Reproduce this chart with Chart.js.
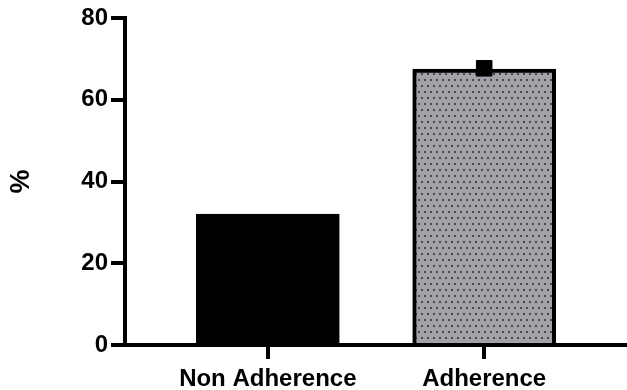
<!DOCTYPE html>
<html>
<head>
<meta charset="utf-8">
<script src="https://cdn.jsdelivr.net/npm/chart.js@4"></script>
<style>
  body { margin: 0; background: #fff; overflow: hidden; }
  #wrap { width: 627px; height: 390px; }
  canvas { display: block; }
</style>
</head>
<body>
<div id="wrap"><canvas id="chart"></canvas></div>
<script>
const categories = ["Non Adherence", "Adherence"];
const xPositions = [1, 2];
const percentValues = [32, 67.5];
const meanMarker = [67.7];
const yTicks = [0, 20, 40, 60, 80];

// dotted grey fill for the second bar
function dotPattern() {
  const c = document.createElement("canvas");
  c.width = 12;
  c.height = 12;
  const g = c.getContext("2d");
  g.fillStyle = "#a3a2a8";
  g.fillRect(0, 0, 12, 12);
  g.fillStyle = "#4a4a4e";
  [[1, 1], [7, 1], [4, 7], [10, 7]].forEach(([x, y]) => g.fillRect(x, y, 2, 2));
  return g.createPattern(c, "repeat");
}

const font = { family: "'Liberation Sans', Arial, sans-serif", size: 24, weight: "bold" };

const ctx = document.getElementById("chart").getContext("2d");
const chart = new Chart(ctx, {
  type: "bar",
  data: {
    datasets: [
      {
        type: "bar",
        data: xPositions.map((x, i) => ({ x, y: percentValues[i] })),
        backgroundColor: ["#000000", dotPattern()],
        borderColor: "#000000",
        borderWidth: 4,
        barThickness: 143,
        order: 2
      },
      {
        type: "scatter",
        data: meanMarker.map(v => ({ x: xPositions[1], y: v })),
        pointStyle: "rect",
        pointRadius: 11,
        backgroundColor: "#000000",
        borderColor: "#000000",
        borderWidth: 1,
        order: 1
      }
    ]
  },
  options: {
    responsive: true,
    maintainAspectRatio: false,
    animation: false,
    layout: { autoPadding: false, padding: { top: 18, left: 0, right: 0, bottom: 0 } },
    plugins: {
      legend: { display: false },
      tooltip: { enabled: false }
    },
    scales: {
      x: {
        type: "linear",
        min: 0.34,
        max: 2.66,
        offset: false,
        afterBuildTicks: scale => { scale.ticks = xPositions.map(v => ({ value: v })); },
        afterFit: scale => {
          scale.height = 45;
          scale.paddingLeft = 0;
          scale.paddingRight = 0;
        },
        grid: {
          offset: false,
          drawOnChartArea: false,
          color: "#000",
          tickColor: "#000",
          tickLength: 14,
          lineWidth: 4,
          tickWidth: 4
        },
        border: { display: true, color: "#000", width: 4 },
        ticks: {
          color: "#000",
          font,
          padding: 6,
          maxRotation: 0,
          autoSkip: false,
          callback: (v, i) => categories[i]
        }
      },
      y: {
        min: 0,
        max: 80,
        afterBuildTicks: scale => { scale.ticks = yTicks.map(v => ({ value: v })); },
        afterFit: scale => { scale.width = 125; },
        grid: {
          drawOnChartArea: false,
          color: "#000",
          tickColor: "#000",
          tickLength: 14,
          lineWidth: 4,
          tickWidth: 4
        },
        border: { display: true, color: "#000", width: 4 },
        ticks: { color: "#000", font, padding: 3 },
        title: {
          display: true,
          text: "%",
          color: "#000",
          font: { family: font.family, size: 27, weight: "bold" },
          padding: { top: 5, bottom: 0 }
        }
      }
    }
  }
});
</script>
</body>
</html>
